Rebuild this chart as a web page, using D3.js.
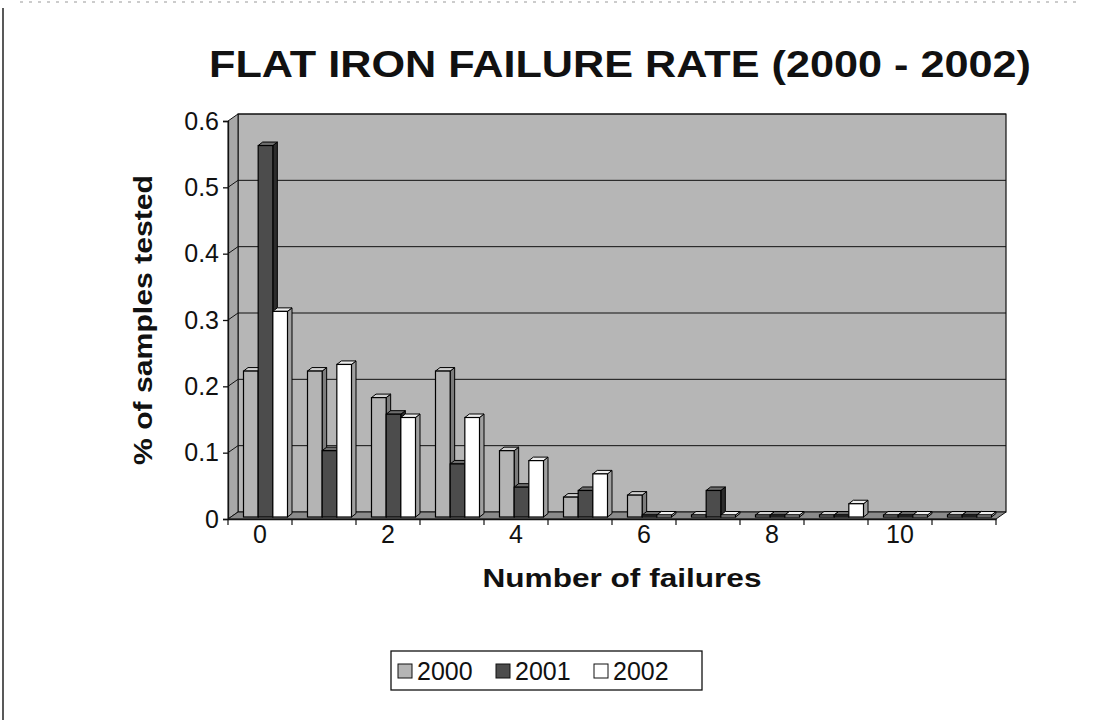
<!DOCTYPE html>
<html>
<head>
<meta charset="utf-8">
<script src="https://cdn.jsdelivr.net/npm/d3@7"></script>
<style>
    body { margin: 0; background: #fff; }
    svg { display: block; }
</style>
</head>
<body>
<div id="chart"></div>
<script>
// data
var categories = [0, 1, 2, 3, 4, 5, 6, 7, 8, 9, 10, 11];
var tickLabels = [0, 2, 4, 6, 8, 10];
var yTicks = [0, 0.1, 0.2, 0.3, 0.4, 0.5, 0.6];
var seriesNames = ["2000", "2001", "2002"];
var values2000 = [0.22, 0.22, 0.18, 0.22, 0.10, 0.03, 0.033, 0, 0, 0, 0, 0];
var values2001 = [0.56, 0.10, 0.155, 0.08, 0.045, 0.04, 0, 0.04, 0, 0, 0, 0];
var values2002 = [0.31, 0.23, 0.15, 0.15, 0.085, 0.065, 0, 0, 0, 0.02, 0, 0];

function init() {
    var w = 1097;
    var h = 720;
    var font = "'Liberation Sans', Arial, sans-serif";

    var left = 228, right = 996, top = 121, bottom = 519;
    var dx = 10, dy = -7;      // depth of the 3d box

    var svg = d3.select("#chart")
        .append("svg")
        .attr("width", w)
        .attr("height", h);

    var x = d3.scaleBand()
        .domain(categories)
        .range([left, right]);

    var y = d3.scaleLinear()
        .domain([0, 0.6])
        .range([bottom, top]);

    var xs = d3.scaleBand()
        .domain(seriesNames)
        .range([-19, 25]);

    var fills = {
        "2000": { front: "#b4b4b4", side: "#7c7c7c", top: "#d2d2d2" },
        "2001": { front: "#4c4c4c", side: "#2c2c2c", top: "#6e6e6e" },
        "2002": { front: "#ffffff", side: "#a0a0a0", top: "#eeeeee" }
    };

    // frame of the chart area (scan edges)
    svg.append("line")
        .attr("x1", 3).attr("y1", 8).attr("x2", 3).attr("y2", h)
        .attr("stroke", "#222").attr("stroke-width", 1.5);
    svg.append("line")
        .attr("x1", 20).attr("y1", 2).attr("x2", 1080).attr("y2", 2)
        .attr("stroke", "#999").attr("stroke-width", 1)
        .attr("stroke-dasharray", "3,6");

    // walls and floor
    function pts(a) { return a.map(function (p) { return p.join(","); }).join(" "); }

    svg.append("polygon")
        .attr("points", pts([[left + dx, top + dy], [right + dx, top + dy], [right + dx, bottom + dy], [left + dx, bottom + dy]]))
        .attr("fill", "#b6b6b6")
        .attr("stroke", "#111").attr("stroke-width", 1.2);
    svg.append("polygon")
        .attr("points", pts([[left, top], [left + dx, top + dy], [left + dx, bottom + dy], [left, bottom]]))
        .attr("fill", "#a8a8a8")
        .attr("stroke", "#111").attr("stroke-width", 1);
    svg.append("polygon")
        .attr("points", pts([[left, bottom], [right, bottom], [right + dx, bottom + dy], [left + dx, bottom + dy]]))
        .attr("fill", "#8a8a8a")
        .attr("stroke", "#111").attr("stroke-width", 1);

    // gridlines on back wall + left wall
    svg.selectAll("line.grid")
        .data(yTicks.slice(1))
        .enter()
        .append("line")
        .attr("class", "grid")
        .attr("x1", left + dx).attr("x2", right + dx)
        .attr("y1", function (d) { return y(d) + dy; })
        .attr("y2", function (d) { return y(d) + dy; })
        .attr("stroke", "#111").attr("stroke-width", 1);
    svg.selectAll("line.wgrid")
        .data(yTicks.slice(1, -1))
        .enter()
        .append("line")
        .attr("class", "wgrid")
        .attr("x1", left).attr("x2", left + dx)
        .attr("y1", function (d) { return y(d); })
        .attr("y2", function (d) { return y(d) + dy; })
        .attr("stroke", "#111").attr("stroke-width", 1);

    // bars
    var bars = [];
    categories.forEach(function (c, i) {
        bars.push({ cat: c, s: "2000", v: values2000[i] });
        bars.push({ cat: c, s: "2001", v: values2001[i] });
        bars.push({ cat: c, s: "2002", v: values2002[i] });
    });

    var bdx = 4.5, bdy = -3.5;   // bar depth
    var off = 2.5, offy = -2;    // bars sit a bit back from the front edge

    var g = svg.selectAll("g.bar")
        .data(bars)
        .enter()
        .append("g")
        .attr("class", "bar");

    function geom(d) {
        var x0 = x(d.cat) + x.bandwidth() / 2 + xs(d.s) + off;
        var x1 = x0 + xs.bandwidth();
        var y0 = y(0) + offy;
        var y1 = Math.min(y(d.v) + offy, y0 - 2);
        return { x0: x0, x1: x1, y0: y0, y1: y1 };
    }

    g.append("polygon")
        .attr("points", function (d) {
            var b = geom(d);
            return pts([[b.x1, b.y0], [b.x1 + bdx, b.y0 + bdy], [b.x1 + bdx, b.y1 + bdy], [b.x1, b.y1]]);
        })
        .attr("fill", function (d) { return fills[d.s].side; })
        .attr("stroke", "#000").attr("stroke-width", 1);
    g.append("polygon")
        .attr("points", function (d) {
            var b = geom(d);
            return pts([[b.x0, b.y1], [b.x1, b.y1], [b.x1 + bdx, b.y1 + bdy], [b.x0 + bdx, b.y1 + bdy]]);
        })
        .attr("fill", function (d) { return fills[d.s].top; })
        .attr("stroke", "#000").attr("stroke-width", 1);
    g.append("rect")
        .attr("x", function (d) { return geom(d).x0; })
        .attr("y", function (d) { return geom(d).y1; })
        .attr("width", xs.bandwidth())
        .attr("height", function (d) { var b = geom(d); return b.y0 - b.y1; })
        .attr("fill", function (d) { return fills[d.s].front; })
        .attr("stroke", "#000").attr("stroke-width", 1.2);

    // axes
    var yAxis = d3.axisLeft(y)
        .tickValues(yTicks)
        .tickFormat(function (d) { return d === 0 ? "0" : d3.format(".1f")(d); })
        .tickSize(5)
        .tickPadding(4);
    svg.append("g")
        .attr("transform", "translate(" + left + ",0)")
        .call(yAxis)
        .call(function (s) {
            s.selectAll("text").attr("font-family", font).attr("font-size", "25px").attr("fill", "#111");
            s.selectAll("line, path").attr("stroke", "#111").attr("stroke-width", 1.3);
        });

    var xAxis = d3.axisBottom(x)
        .tickValues([])
        .tickSizeOuter(0);
    var xg = svg.append("g")
        .attr("transform", "translate(0," + bottom + ")")
        .call(xAxis);
    xg.selectAll("path").attr("stroke", "#111").attr("stroke-width", 1.3);

    // tick marks sit between categories
    xg.selectAll("line.bound")
        .data(categories.concat([categories.length]))
        .enter()
        .append("line")
        .attr("class", "bound")
        .attr("x1", function (d, i) { return left + i * x.step(); })
        .attr("x2", function (d, i) { return left + i * x.step(); })
        .attr("y1", 0).attr("y2", 6)
        .attr("stroke", "#111").attr("stroke-width", 1.2);

    xg.selectAll("text.lbl")
        .data(tickLabels)
        .enter()
        .append("text")
        .attr("class", "lbl")
        .attr("x", function (d) { return x(d) + x.bandwidth() / 2; })
        .attr("y", 24)
        .attr("text-anchor", "middle")
        .attr("font-family", font)
        .attr("font-size", "25px")
        .attr("fill", "#111")
        .text(function (d) { return d; });

    // titles (the scan is a little wide, so stretch them to the measured length)
    svg.append("text")
        .attr("x", 620)
        .attr("y", 77)
        .attr("text-anchor", "middle")
        .attr("font-family", font)
        .attr("font-weight", "bold")
        .attr("font-size", "36px")
        .attr("textLength", 822)
        .attr("lengthAdjust", "spacingAndGlyphs")
        .attr("fill", "#111")
        .text("FLAT IRON FAILURE RATE (2000 - 2002)");

    svg.append("text")
        .attr("x", 622)
        .attr("y", 587)
        .attr("text-anchor", "middle")
        .attr("font-family", font)
        .attr("font-weight", "bold")
        .attr("font-size", "26px")
        .attr("textLength", 279)
        .attr("lengthAdjust", "spacingAndGlyphs")
        .attr("fill", "#111")
        .text("Number of failures");

    svg.append("text")
        .attr("transform", "translate(152,320) rotate(-90)")
        .attr("text-anchor", "middle")
        .attr("font-family", font)
        .attr("font-weight", "bold")
        .attr("font-size", "26px")
        .attr("textLength", 290)
        .attr("lengthAdjust", "spacingAndGlyphs")
        .attr("fill", "#111")
        .text("% of samples tested");

    // legend
    var lg = svg.append("g").attr("transform", "translate(391,651)");
    lg.append("rect")
        .attr("width", 311).attr("height", 39)
        .attr("fill", "#fff")
        .attr("stroke", "#111").attr("stroke-width", 1.3);

    var items = lg.selectAll("g.item")
        .data(seriesNames)
        .enter()
        .append("g")
        .attr("class", "item")
        .attr("transform", function (d, i) { return "translate(" + (7 + i * 98) + ",0)"; });
    items.append("rect")
        .attr("x", 0).attr("y", 13)
        .attr("width", 14).attr("height", 14)
        .attr("fill", function (d) { return fills[d].front; })
        .attr("stroke", "#111").attr("stroke-width", 1);
    items.append("text")
        .attr("x", 19)
        .attr("y", 29)
        .attr("font-family", font)
        .attr("font-size", "25px")
        .attr("fill", "#111")
        .text(function (d) { return d; });
}
window.onload = init;
</script>
</body>
</html>
